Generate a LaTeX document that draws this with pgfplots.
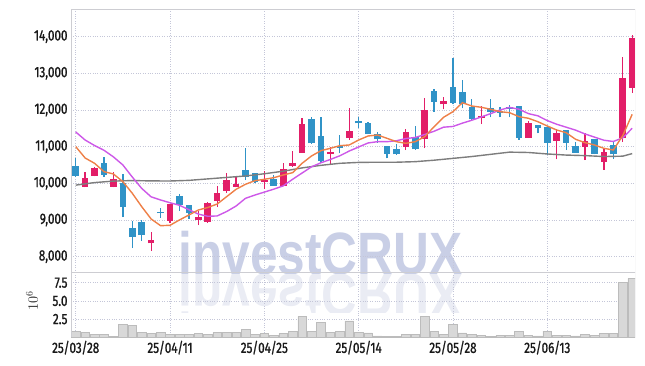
\documentclass[border=0pt]{standalone}
\usepackage{fontspec}
\usepackage{pgfplots}
\usepackage{pgfplotstable}
\pgfplotsset{compat=1.18}
\setmainfont{Fira Sans}[FakeStretch=0.8]
\newfontfamily\tickfont{Fira Sans}[FakeStretch=0.78, FakeBold=1.2]
\newfontfamily\wmfont{Liberation Sans}[FakeStretch=0.83]
\definecolor{cred}{RGB}{226,30,104}
\definecolor{cblue}{RGB}{48,147,199}
\definecolor{cmaA}{RGB}{238,128,72}
\definecolor{cmaB}{RGB}{205,88,232}
\definecolor{cmaC}{RGB}{125,125,125}
\definecolor{gridc}{RGB}{196,198,216}
\definecolor{framec}{RGB}{205,205,210}
\definecolor{wm}{RGB}{201,207,230}
\definecolor{wmr}{RGB}{234,236,244}
\definecolor{volfill}{RGB}{216,216,216}
\definecolor{voledge}{RGB}{188,188,188}

% up candles (red): index open high low close
\pgfplotstableread{
i o h l c
1 9900 10300 9890 10140
2 10200 10450 10190 10420
4 9900 10300 9890 10120
8 8365 8665 8160 8455
10 8980 9440 8925 9435
13 9000 9250 8860 9080
14 8945 9480 8925 9460
15 9517 9940 9350 9735
16 9790 10290 9745 10090
17 9910 10200 9890 9990
20 10045 10335 9845 10090
22 9935 10545 9930 10380
23 10480 10890 10453 10562
24 10834 11773 10834 11617
27 10800 10998 10518 10862
29 11244 12045 11181 11426
35 10998 11472 10908 11395
37 11210 12318 10954 11999
39 12154 12362 12018 12245
43 11790 12100 11617 11845
48 11244 11708 11230 11653
51 11162 11481 10654 11363
54 10998 11363 10635 11162
56 10590 10954 10363 10845
58 11227 13454 11135 12863
59 12608 14044 12471 13954
}\redtab

% down candles (blue): index open high low close
\pgfplotstableread{
i o h l c
0 10470 10690 10170 10200
3 10550 10720 10170 10230
5 10010 10250 9080 9350
6 8790 8970 8235 8545
7 8950 9000 8435 8590
9 9220 9330 9060 9180
11 9650 9710 9250 9410
12 9410 9420 9025 9190
18 10360 10955 10090 10180
19 10270 10290 10000 10045
21 10117 10226 9930 9935
25 11753 11800 11072 11090
26 11290 11800 10562 10608
28 11026 11317 10818 10971
30 11699 11800 11500 11636
31 11636 11660 11340 11344
32 11344 11407 11108 11200
33 11017 11030 10680 10810
34 10944 11072 10772 10790
36 11260 11570 10920 10927
38 12517 12563 11953 12225
40 12618 13409 12154 12200
41 12482 12817 12045 12163
42 12073 12300 11726 11745
44 12045 12300 11800 11953
45 11972 12073 11800 11926
46 12090 12136 11800 12018
47 12108 12120 11181 11244
49 11590 11600 11363 11500
50 11544 11560 10772 11108
52 11453 11460 10908 11108
53 11026 11135 10830 10835
55 11208 11220 10790 10800
57 11044 11135 10663 10790
}\bluetab

\pgfplotsset{
  base/.style={
    scale only axis, width=564bp, xmin=-0.5, xmax=59.3,
    xtick={0,10,20,30,40,50},
    grid=major, major grid style={gridc, dotted, line width=0.7bp},
    major tick length=0pt, axis line style={draw=none},
    tick label style={font=\tickfont\fontsize{15}{15}\selectfont, text=black!90},
    /pgf/number format/assume math mode=true,
    scaled ticks=false,
  },
  wick/.style={forget plot, draw=none, no markers,
    error bars/.cd, y dir=plus, y explicit, error mark=none,
    error bar style={line width=1.3bp, draw=#1, solid}},
  body/.style={forget plot, draw=none, no markers,
    error bars/.cd, y dir=plus, y explicit, error mark=none,
    error bar style={line width=6.6bp, draw=#1, solid}},
}

\begin{document}
\begin{tikzpicture}
\path[use as bounding box] (0bp,0bp) rectangle (645bp,-366bp);
% watermark
\node[anchor=base, text=wm, inner sep=0pt, font=\wmfont\bfseries\fontsize{60}{60}\selectfont] at (320.5bp,-274bp) {investCRUX};
\begin{scope}
\clip (150bp,-274bp) rectangle (500bp,-312bp);
\node[anchor=base, yscale=-1, text=wmr, inner sep=0pt, font=\wmfont\bfseries\fontsize{60}{60}\selectfont] at (320.5bp,-274bp) {investCRUX};
\end{scope}

\begin{axis}[base, at={(71bp,-9.3bp)}, anchor=north west, height=263bp,
  ymin=7573, ymax=14745, ytick={8000,9000,10000,11000,12000,13000,14000},
  xticklabels={},
  /pgf/number format/1000 sep={,},
]
\addplot[wick=cred] table[x=i, y=l, y error plus expr=\thisrow{h}-\thisrow{l}] {\redtab};
\addplot[wick=cblue] table[x=i, y=l, y error plus expr=\thisrow{h}-\thisrow{l}] {\bluetab};
\addplot[body=cred] table[x=i, y=o, y error plus expr=\thisrow{c}-\thisrow{o}] {\redtab};
\addplot[body=cblue] table[x=i, y=c, y error plus expr=\thisrow{o}-\thisrow{c}] {\bluetab};
% moving averages
\addplot[cmaC, line width=1.4bp] coordinates {
(0,9950) (2,10020) (4,10060) (6,10075) (8,10065) (10,10063) (12,10080) (14,10120)
(16,10160) (18,10200) (20,10260) (22,10330) (24,10420) (26,10490) (28,10545)
(30,10570) (32,10575) (34,10575) (36,10590) (38,10630) (40,10680) (42,10730)
(44,10790) (46,10850) (48,10840) (50,10800) (52,10770) (54,10755) (56,10730)
(58,10740) (59,10810)};
\addplot[cmaB, line width=1.4bp] coordinates {
(0,11400) (1,11180) (2,11030) (3,10900) (4,10720) (5,10500) (6,10170) (7,9860)
(8,9630) (9,9545) (10,9470) (11,9400) (12,9280) (13,9160) (14,9100) (15,9110)
(16,9230) (17,9380) (18,9590) (19,9680) (20,9760) (21,9840) (22,9930) (23,10110)
(24,10280) (25,10450) (26,10560) (27,10650) (28,10750) (29,10880) (30,10990)
(31,11100) (32,11135) (33,11135) (34,11160) (35,11220) (36,11250) (37,11330)
(38,11420) (39,11530) (40,11550) (41,11640) (42,11720) (43,11810) (44,11900)
(45,12000) (46,12070) (47,12020) (48,11900) (49,11840) (50,11710) (51,11610)
(52,11530) (53,11450) (54,11345) (55,11260) (56,11175) (57,11140) (58,11240)
(59,11500)};
\addplot[cmaA, line width=1.4bp] coordinates {
(0,11000) (1,10690) (2,10545) (3,10317) (4,10254) (5,10045) (6,9727) (7,9362)
(8,9026) (9,8844) (10,8855) (11,9000) (12,9135) (13,9272) (14,9340) (15,9435)
(16,9635) (17,9836) (18,9973) (19,10072) (20,10109) (21,10153) (22,10226)
(23,10290) (24,10545) (25,10745) (26,10890) (27,10954) (28,11026) (29,11045)
(30,11181) (31,11290) (32,11317) (33,11227) (34,11135) (35,11090) (36,11135)
(37,11271) (38,11544) (39,11800) (40,11953) (41,12198) (42,12108) (43,12073)
(44,12018) (45,11953) (46,11926) (47,11817) (48,11773) (49,11680) (50,11563)
(51,11453) (52,11380) (53,11200) (54,11108) (55,11045) (56,10954) (57,10908)
(58,11300) (59,11880)};
\draw[framec, line width=0.8bp] (rel axis cs:0,0) -- (rel axis cs:0,1) -- (rel axis cs:1,1) -- (rel axis cs:1,0) -- cycle;
\end{axis}

\begin{axis}[base, at={(71bp,-272.3bp)}, anchor=north west, height=65bp,
  ymin=0, ymax=8.93, ytick={2.5,5,7.5}, yticklabels={2.5,5.0,7.5},
  xticklabels={25/03/28,25/04/11,25/04/25,25/05/14,25/05/28,25/06/13},
]
\addplot[ybar, bar width=8.6bp, fill=volfill, draw=voledge, line width=0.5bp] coordinates {
(0,0.85) (1,0.7) (2,0.45) (3,0.45) (4,0.15) (5,1.75) (6,1.65) (7,0.65) (8,0.55) (9,0.65)
(10,0.45) (11,0.4) (12,0.4) (13,0.5) (14,0.4) (15,0.65) (16,0.65) (17,0.65) (18,1.1) (19,0.45)
(20,0.5) (21,0.25) (22,0.5) (23,0.85) (24,2.85) (25,0.8) (26,2.05) (27,0.7) (28,0.8) (29,2.25)
(30,0.7) (31,0.6) (32,0.2) (33,0.15) (34,0.1) (35,0.45) (36,0.45) (37,2.9) (38,0.8) (39,0.45)
(40,1.75) (41,0.6) (42,0.45) (43,0.25) (44,0.15) (45,0.25) (46,0.3) (47,0.85) (48,0.3) (49,0.2)
(50,0.85) (51,0.3) (52,0.3) (53,0.2) (54,0.45) (55,0.3) (56,0.55) (57,0.55) (58,7.55) (59,8.1)};
\draw[framec, line width=0.8bp] (rel axis cs:0,0) -- (rel axis cs:0,1) -- (rel axis cs:1,1) -- (rel axis cs:1,0);
\end{axis}
\node[rotate=90, font=\fontsize{14}{14}\selectfont, text=black!85] at (32bp,-301bp) {$10^6$};
\end{tikzpicture}
\end{document}
